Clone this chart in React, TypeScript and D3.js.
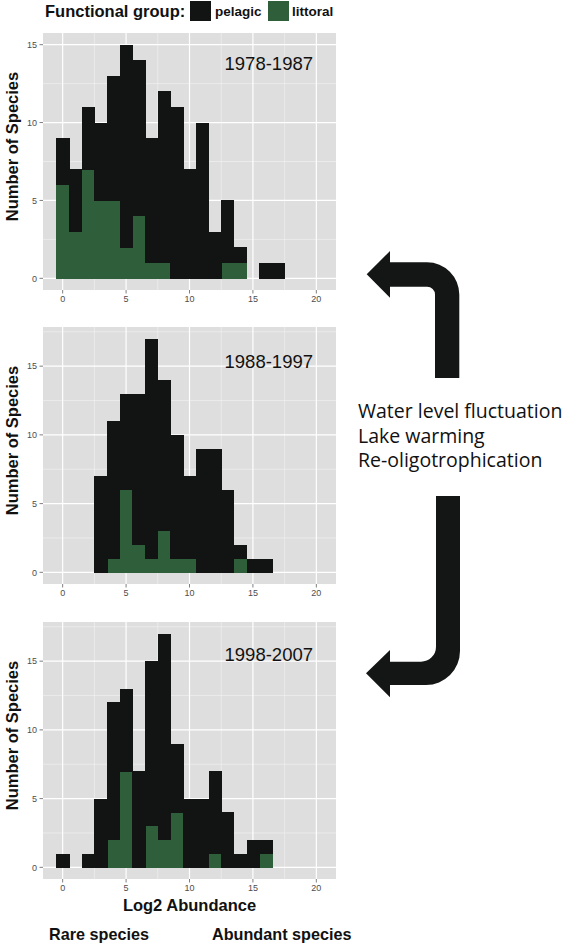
import React from "react";
import * as d3 from "d3";

// ---- data ----
const binCenters = [0, 1, 2, 3, 4, 5, 6, 7, 8, 9, 10, 11, 12, 13, 14, 15, 16, 17];
const periods = ["1978-1987", "1988-1997", "1998-2007"];
const p1Littoral = [6, 3, 7, 5, 5, 2, 4, 1, 1, 0, 0, 0, 0, 1, 1, 0, 0, 0];
const p1Pelagic = [3, 4, 4, 5, 8, 13, 10, 8, 11, 11, 7, 10, 3, 4, 1, 0, 1, 1];
const p2Littoral = [0, 0, 0, 0, 1, 6, 2, 1, 3, 1, 1, 0, 0, 0, 1, 0, 0, 0];
const p2Pelagic = [0, 0, 0, 7, 10, 7, 11, 16, 11, 9, 6, 9, 9, 6, 1, 1, 1, 0];
const p3Littoral = [0, 0, 0, 0, 2, 7, 0, 3, 2, 4, 0, 0, 1, 0, 0, 0, 1, 0];
const p3Pelagic = [1, 0, 1, 5, 10, 6, 7, 12, 15, 5, 5, 5, 6, 4, 1, 2, 1, 0];
const xTicks = [0, 5, 10, 15, 20];
const yTicks = [0, 5, 10, 15];
const titleY = [13.35, 14.9, 15.0];
const drivers = ["Water level fluctuation", "Lake warming", "Re-oligotrophication"];
const groups = ["littoral", "pelagic"];
const groupLabels = ["pelagic", "littoral"];

const COLORS: Record<string, string> = { pelagic: "#121414", littoral: "#2e5f3a" };
const FONT = "'Liberation Sans', Arial, Helvetica, sans-serif";

const panelsData = [
  { littoral: p1Littoral, pelagic: p1Pelagic },
  { littoral: p2Littoral, pelagic: p2Pelagic },
  { littoral: p3Littoral, pelagic: p3Pelagic },
];

const PL = 43;
const PR = 336;
const PH = 257;
const panelTops = [33, 327, 622];

const x = d3.scaleLinear().domain([-1.55, 21.55]).range([PL, PR]);

function Panel({ idx }: { idx: number }) {
  const top = panelTops[idx];
  const bottom = top + PH;
  const pd = panelsData[idx];
  const rows = binCenters.map((c, i) => ({ c, littoral: pd.littoral[i], pelagic: pd.pelagic[i] }));
  const maxTotal = d3.max(rows, (r) => r.littoral + r.pelagic) as number;
  const pad = maxTotal * 0.05;
  const y = d3.scaleLinear().domain([-pad, maxTotal + pad]).range([bottom, top]);
  const stacked = d3.stack<any>().keys(groups)(rows);
  const minorX = d3.range(-2.5, 22, 5).filter((v) => v > x.domain()[0] && v < x.domain()[1]);
  const minorY = d3.range(2.5, maxTotal + pad, 5);
  return (
    <g>
      <rect x={PL} y={top} width={PR - PL} height={PH} fill="#dedede" />
      {minorX.map((v) => (
        <line key={"mx" + v} x1={x(v)} x2={x(v)} y1={top} y2={bottom} stroke="#f4f4f4" strokeWidth={0.6} />
      ))}
      {minorY.map((v) => (
        <line key={"my" + v} x1={PL} x2={PR} y1={y(v)} y2={y(v)} stroke="#f4f4f4" strokeWidth={0.6} />
      ))}
      {xTicks.map((v) => (
        <line key={"gx" + v} x1={x(v)} x2={x(v)} y1={top} y2={bottom} stroke="#ffffff" strokeWidth={1.2} />
      ))}
      {yTicks.map((v) => (
        <line key={"gy" + v} x1={PL} x2={PR} y1={y(v)} y2={y(v)} stroke="#ffffff" strokeWidth={1.2} />
      ))}
      {stacked.map((layer) => (
        <g key={layer.key} fill={COLORS[layer.key]} shapeRendering="crispEdges">
          {layer.map((d: any, i: number) =>
            d[1] - d[0] > 0 ? (
              <rect
                key={i}
                x={x(d.data.c - 0.5)}
                width={x(d.data.c + 0.5) - x(d.data.c - 0.5) + 0.6}
                y={y(d[1])}
                height={y(d[0]) - y(d[1]) + 0.4}
              />
            ) : null
          )}
        </g>
      ))}
      <text x={x(16.25)} y={y(titleY[idx])} fontFamily={FONT} fontSize={18.5} textAnchor="middle" fill="#111">
        {periods[idx]}
      </text>
      {xTicks.map((v) => (
        <g key={"tx" + v}>
          <line x1={x(v)} x2={x(v)} y1={bottom} y2={bottom + 3.5} stroke="#7f7f7f" strokeWidth={1} />
          <text x={x(v)} y={bottom + 12} fontFamily={FONT} fontSize={9} textAnchor="middle" fill="#4d4d4d">
            {v}
          </text>
        </g>
      ))}
      {yTicks.filter((v) => v <= maxTotal + pad).map((v) => (
        <g key={"ty" + v}>
          <line x1={PL - 3.5} x2={PL} y1={y(v)} y2={y(v)} stroke="#7f7f7f" strokeWidth={1} />
          <text x={PL - 6} y={y(v) + 3.2} fontFamily={FONT} fontSize={9} textAnchor="end" fill="#4d4d4d">
            {v}
          </text>
        </g>
      ))}
      <text
        transform={`translate(18,${top + PH / 2 - 15}) rotate(-90)`}
        fontFamily={FONT}
        fontSize={16.5}
        fontWeight="bold"
        textAnchor="middle"
        fill="#111"
      >
        Number of Species
      </text>
    </g>
  );
}

function Arrows() {
  const up = [
    "M366.7,274.3",
    "L390,251",
    "L390,262.3",
    "L427,262.3",
    "A32.3,32.3 0 0 1 459.3,294.6",
    "L459.3,378",
    "L435,378",
    "L435,294.6",
    "A7.9,7.9 0 0 0 427.1,286.7",
    "L390,286.7",
    "L390,297.7",
    "Z",
  ].join(" ");
  const down = [
    "M366,673.3",
    "L390,650",
    "L390,661.7",
    "L421,661.7",
    "A15,15 0 0 0 436,646.7",
    "L436,496",
    "L460,496",
    "L460,651",
    "A34,34 0 0 1 426,685",
    "L390,685",
    "L390,697.3",
    "Z",
  ].join(" ");
  return (
    <g fill="#141616">
      <path d={up} />
      <path d={down} />
    </g>
  );
}

export default function App() {
  return (
    <div style={{ position: "absolute", left: 0, top: 0 }}>
      <svg width={564} height={950} viewBox="0 0 564 950" style={{ display: "block", background: "#fff" }}>
        <rect width={564} height={950} fill="#fff" />
        {/* legend */}
        <text x={45} y={16.5} fontFamily={FONT} fontSize={16.5} fontWeight="bold" fill="#111">
          Functional group:
        </text>
        <rect x={190} y={1} width={21} height={20} fill={COLORS.pelagic} />
        <text x={215} y={16} fontFamily={FONT} fontSize={13.5} fontWeight="bold" fill="#111">
          {groupLabels[0]}
        </text>
        <rect x={268} y={1} width={21} height={20} fill={COLORS.littoral} />
        <text x={292} y={16} fontFamily={FONT} fontSize={13.5} fontWeight="bold" fill="#111">
          {groupLabels[1]}
        </text>
        {[0, 1, 2].map((i) => (
          <Panel key={i} idx={i} />
        ))}
        <text x={(PL + PR) / 2} y={911} fontFamily={FONT} fontSize={16.5} fontWeight="bold" textAnchor="middle" fill="#111">
          Log2 Abundance
        </text>
        <text x={49} y={940} fontFamily={FONT} fontSize={16.2} fontWeight="bold" fill="#111">
          Rare species
        </text>
        <text x={212} y={940} fontFamily={FONT} fontSize={16.2} fontWeight="bold" fill="#111">
          Abundant species
        </text>
        <Arrows />
        {drivers.map((t, i) => (
          <text key={t} x={358} y={418 + i * 24.5} fontFamily="'Open Sans', 'Noto Sans', sans-serif" fontSize={19.5} fill="#111">
            {t}
          </text>
        ))}
      </svg>
    </div>
  );
}
